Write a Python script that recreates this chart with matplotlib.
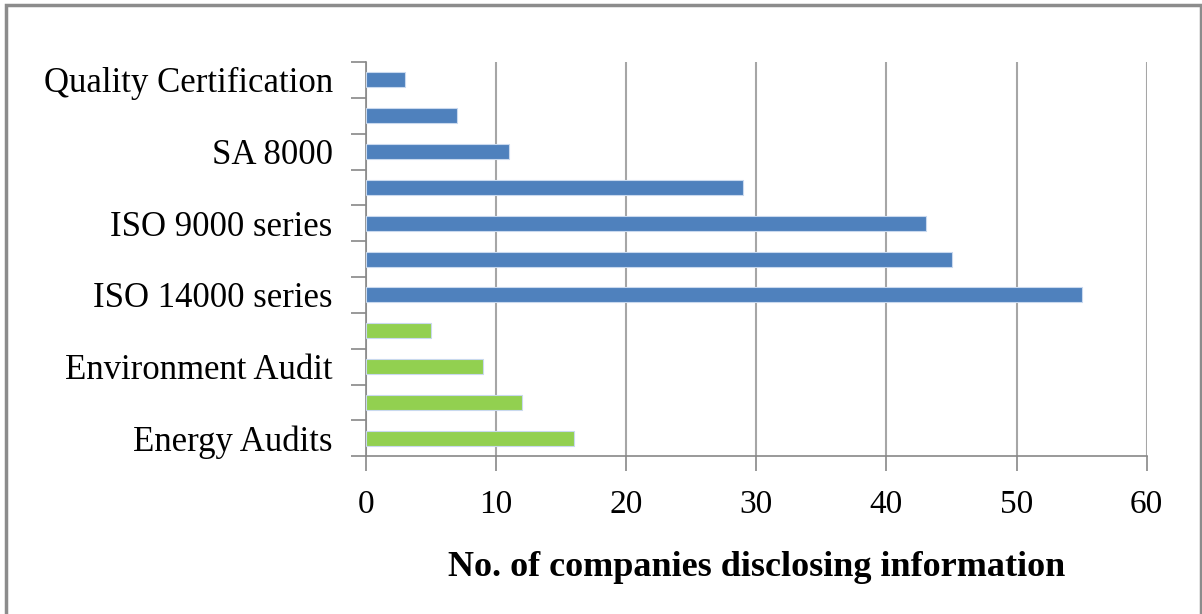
import matplotlib
matplotlib.use("Agg")
import matplotlib.pyplot as plt
from matplotlib.patches import Rectangle
from matplotlib.ticker import FixedLocator

# Categories listed bottom to top; only alternate rows carry a visible label
categories = ["Energy Audits", "", "Environment Audit", "",
              "ISO 14000 series", "", "ISO 9000 series", "",
              "SA 8000", "", "Quality Certification"]
values = [16, 12, 9, 5, 55, 45, 43, 29, 11, 7, 3]
groups = ["audit", "audit", "audit", "audit",
          "cert", "cert", "cert", "cert", "cert", "cert", "cert"]
group_colors = {"audit": "#92D050", "cert": "#4F81BD"}
x_ticks = [0, 10, 20, 30, 40, 50, 60]
x_label = "No. of companies disclosing information"

plt.rcParams["font.family"] = ["Liberation Serif", "DejaVu Serif"]

fig = plt.figure(figsize=(12.02, 6.14), dpi=100)
ax = fig.add_axes([0.3045, 0.257, 0.6495, 0.642])

pos = list(range(len(categories)))
colors = [group_colors[g] for g in groups]
ax.barh(pos, values, height=0.42, color=colors, edgecolor="#C9D9EE",
        linewidth=0.8, zorder=3)

ax.set_xlim(0, 60)
ax.set_ylim(-0.5, len(categories) - 0.5)

ax.set_xticks(x_ticks)
ax.set_xticklabels([str(t) for t in x_ticks], fontsize=24)
ax.tick_params(axis="x", length=11, width=1.2, color="#888888", pad=13)
ax.grid(axis="x", color="#A6A6A6", linewidth=1.5, zorder=0)

# Ticks at category boundaries, labels centred on each bar
ax.yaxis.set_major_locator(FixedLocator([p - 0.5 for p in pos] + [pos[-1] + 0.5]))
ax.yaxis.set_major_formatter(plt.NullFormatter())
ax.yaxis.set_minor_locator(FixedLocator(pos))
ax.set_yticklabels(categories, minor=True, fontsize=25)
ax.tick_params(axis="y", which="minor", length=0, pad=24)
ax.tick_params(axis="y", which="major", length=11, width=1.2, color="#888888")

for side in ["top", "right"]:
    ax.spines[side].set_visible(False)
for side in ["left", "bottom"]:
    ax.spines[side].set_color("#888888")
    ax.spines[side].set_linewidth(1.2)

ax.set_xlabel(x_label, fontsize=26, fontweight="bold", labelpad=22)

# Outer chart frame
fig.patches.append(Rectangle((6 / 1202, -0.05), 1195 / 1202, 1.05 - 5 / 614,
                             transform=fig.transFigure, fill=False,
                             edgecolor="#8C8C8C", linewidth=2.5))

fig.savefig("out.png", dpi=100)
